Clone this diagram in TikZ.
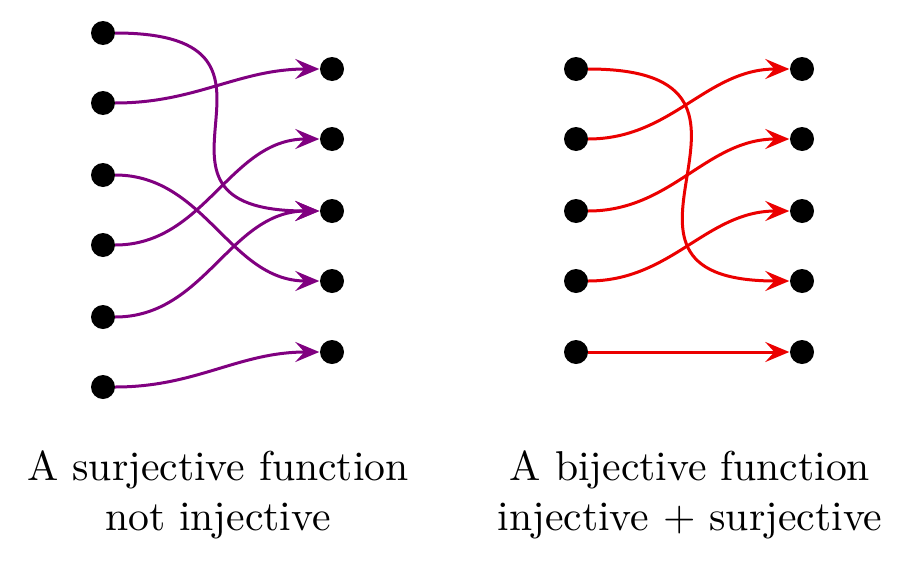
\documentclass[tikz,border=0pt]{standalone}
\usetikzlibrary{arrows.meta}
\definecolor{purp}{RGB}{128,0,128}
\definecolor{redc}{RGB}{235,0,0}
\begin{document}
\begin{tikzpicture}[x=1pt,y=-1pt,
  dot/.style={circle,fill=black,minimum size=24pt,inner sep=0pt},
  arr/.style={line width=3pt,-{Stealth[length=24pt,width=20pt,inset=9pt]},shorten >=0.5pt},
  parr/.style={arr,draw=purp},
  rarr/.style={arr,draw=redc},
  lbl/.style={anchor=base,inner sep=0pt,font=\fontsize{10}{12}\selectfont,scale=4.17}]
\useasboundingbox (0,0) rectangle (920,562);
% left diagram
\foreach \i/\y in {1/33,2/103,3/175,4/245,5/317,6/387}
  \node[dot] (a\i) at (103,\y) {};
\foreach \i/\y in {1/69,2/139,3/211,4/281,5/352}
  \node[dot] (b\i) at (332,\y) {};
\draw[parr] (a1) to[out=0,in=180,looseness=2] (b3);
\draw[parr] (a2) to[out=0,in=180] (b1);
\draw[parr] (a3) to[out=0,in=180] (b4);
\draw[parr] (a4) to[out=0,in=180] (b2);
\draw[parr] (a5) to[out=0,in=180] (b3);
\draw[parr] (a6) to[out=0,in=180] (b5);
% right diagram
\foreach \i/\y in {1/69,2/139,3/211,4/281,5/352}
  \node[dot] (c\i) at (576,\y) {};
\foreach \i/\y in {1/69,2/139,3/211,4/281,5/352}
  \node[dot] (d\i) at (802,\y) {};
\draw[rarr] (c1) to[out=0,in=180,looseness=2] (d4);
\draw[rarr] (c2) to[out=0,in=180] (d1);
\draw[rarr] (c3) to[out=0,in=180] (d2);
\draw[rarr] (c4) to[out=0,in=180] (d3);
\draw[rarr] (c5) -- (d5);
% labels
\node[lbl] (t1) at (218,480) {A surjective function};
\node[lbl] (t2) at (218,530) {not injective};
\node[lbl] (t3) at (690,480) {A bijective function};
\node[lbl] (t4) at (690,530) {injective + surjective};
\end{tikzpicture}
\end{document}
